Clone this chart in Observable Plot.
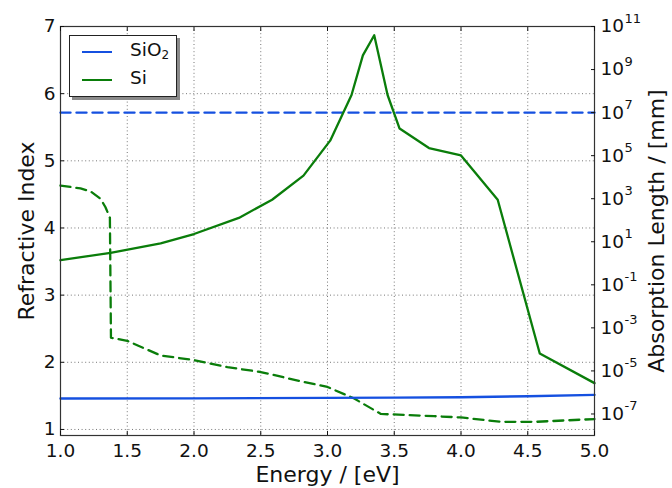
<!DOCTYPE html>
<html>
<head>
<meta charset="utf-8">
<script src="https://cdn.jsdelivr.net/npm/d3@7"></script>
<script src="https://cdn.jsdelivr.net/npm/@observablehq/plot@0.6"></script>
<style>
  body { margin: 0; background: white; }
  #wrap { position: relative; width: 672px; height: 488px; font-family: "DejaVu Sans", sans-serif; }
  #legend { position: absolute; left: 69px; top: 35px; width: 106px; height: 60px; border: 1px solid #222; background: white; box-shadow: 3px 3px 0 #8a8a8a; }
  .lg-line { position: absolute; left: 12px; width: 30px; height: 0; border-top: 2.5px solid; }
  .lg-text { position: absolute; left: 60px; font-size: 18.5px; color: #111; line-height: 1; }
</style>
</head>
<body>
<div id="wrap"></div>
<script>
// ---- data ----
const xTicks = [1.0, 1.5, 2.0, 2.5, 3.0, 3.5, 4.0, 4.5, 5.0];
const yTicks = [1, 2, 3, 4, 5, 6, 7];
const rightTickExps = [11, 9, 7, 5, 3, 1, -1, -3, -5, -7];

// SiO2 refractive index
const sio2NE = [1.0, 2.0, 3.0, 3.5, 4.0, 4.5, 5.0];
const sio2N  = [1.46, 1.463, 1.47, 1.474, 1.48, 1.495, 1.515];
// SiO2 absorption length [mm]
const sio2AE = [1.0, 5.0];
const sio2A  = [1e7, 1e7];

// Si refractive index
const siNE = [1.0, 1.375, 1.75, 2.0, 2.336, 2.585, 2.82, 3.02, 3.18, 3.265, 3.35, 3.45, 3.54, 3.76, 4.0, 4.275, 4.59, 5.0];
const siN  = [3.52, 3.63, 3.77, 3.91, 4.15, 4.42, 4.78, 5.30, 5.98, 6.57, 6.87, 5.98, 5.48, 5.19, 5.08, 4.42, 2.13, 1.69];
// Si absorption length [mm]
const siAE = [1.0, 1.15, 1.225, 1.30, 1.337, 1.37, 1.378, 1.5, 1.75, 2.0, 2.25, 2.5, 2.82, 3.0, 3.2, 3.4, 3.53, 3.8, 4.0, 4.3, 4.55, 5.0];
const siA  = [4.1e3, 3.0e3, 2.2e3, 1.0e3, 4.0e2, 1.3e2, 3.5e-4, 2.5e-4, 5.2e-5, 3.2e-5, 1.5e-5, 8.9e-6, 3.1e-6, 1.8e-6, 5.2e-7, 1.0e-7, 9.3e-8, 7.9e-8, 6.9e-8, 4.3e-8, 4.3e-8, 5.8e-8];

const labels = { x: "Energy / [eV]", yLeft: "Refractive Index", yRight: "Absorption Length / [mm]" };
const series = [{ name: "SiO", sub: "2", color: "#1550e0" }, { name: "Si", sub: "", color: "#0a7d0a" }];

// ---- scales ----
const yDomain = [0.91, 7];
const ab = d3.scaleLog().domain([1e-8, 1e11]).range(yDomain); // right axis -> left units
const blue = series[0].color, green = series[1].color;

const rows = (E, V, f = v => v) => E.map((e, i) => ({ e, v: f(V[i]) }));

const gridStyle = { stroke: "#000", strokeOpacity: 0.6, strokeDasharray: "1,2.6", strokeWidth: 0.9 };
const font = 18.5;

const plot = Plot.plot({
  width: 672, height: 488,
  marginLeft: 60, marginRight: 78, marginTop: 26, marginBottom: 53,
  style: { fontFamily: "DejaVu Sans", fontSize: font + "px", color: "#111", background: "white" },
  x: { domain: [1, 5] },
  y: { domain: yDomain },
  marks: [
    Plot.gridX(xTicks, gridStyle),
    Plot.gridY(yTicks, gridStyle),
    Plot.line(rows(sio2AE, sio2A, ab), { x: "e", y: "v", stroke: blue, strokeWidth: 2.4, strokeDasharray: "10,6" }),
    Plot.line(rows(siAE, siA, ab), { x: "e", y: "v", stroke: green, strokeWidth: 2.3, strokeDasharray: "10,6" }),
    Plot.line(rows(sio2NE, sio2N), { x: "e", y: "v", stroke: blue, strokeWidth: 2.4 }),
    Plot.line(rows(siNE, siN), { x: "e", y: "v", stroke: green, strokeWidth: 2.3 }),
    Plot.frame({ stroke: "#333", strokeWidth: 1.2 }),
    Plot.axisX(xTicks, { anchor: "bottom", tickSize: 0, tickPadding: 8, tickFormat: d3.format(".1f"), label: null, fontSize: font }),
    Plot.axisX(xTicks, { anchor: "bottom", tickSize: 4, insetBottom: 4, tickFormat: () => "", label: null }),
    Plot.axisX(xTicks, { anchor: "top", tickSize: 4, insetTop: 4, tickFormat: () => "", label: null }),
    Plot.axisY(yTicks, { anchor: "left", tickSize: 0, tickPadding: 5, tickFormat: d3.format("d"), label: null, fontSize: font }),
    Plot.axisY(yTicks, { anchor: "left", tickSize: 4, insetLeft: 4, tickFormat: () => "", label: null }),
    Plot.axisY(rightTickExps.map(k => ab(Math.pow(10, k))), { anchor: "right", tickSize: 4, insetRight: 4, tickFormat: () => "", label: null }),
    Plot.text(rightTickExps, { x: () => 5, y: k => ab(Math.pow(10, k)), text: () => "10", dx: 6, textAnchor: "start", fontSize: font }),
    Plot.text(rightTickExps, { x: () => 5, y: k => ab(Math.pow(10, k)), text: k => String(k), dx: 30, dy: -8, textAnchor: "start", fontSize: 13 }),
    Plot.text([labels.x], { frameAnchor: "bottom", text: d => d, dy: 31, lineAnchor: "top", textAnchor: "middle", fontSize: 22 }),
    Plot.text([labels.yLeft], { frameAnchor: "left", text: d => d, dx: -34, rotate: -90, textAnchor: "middle", lineAnchor: "middle", fontSize: 22 }),
    Plot.text([labels.yRight], { frameAnchor: "right", text: d => d, dx: 62, rotate: -90, textAnchor: "middle", lineAnchor: "middle", fontSize: 22 })
  ]
});

const wrap = document.getElementById("wrap");
wrap.appendChild(plot);

// legend
const lg = document.createElement("div");
lg.id = "legend";
series.forEach((s, i) => {
  const top = 15 + i * 28;
  const ln = document.createElement("div");
  ln.className = "lg-line";
  ln.style.top = top + "px";
  ln.style.borderTopColor = s.color;
  lg.appendChild(ln);
  const tx = document.createElement("div");
  tx.className = "lg-text";
  tx.style.top = (top - 10) + "px";
  tx.innerHTML = s.name + (s.sub ? `<sub style="font-size:12px;vertical-align:-3px">${s.sub}</sub>` : "");
  lg.appendChild(tx);
});
wrap.appendChild(lg);
</script>
</body>
</html>
